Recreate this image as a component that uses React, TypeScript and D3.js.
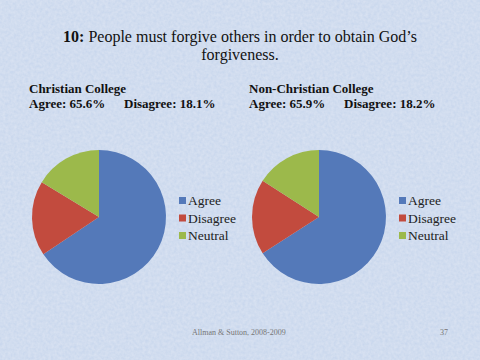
import React from 'react';
import * as d3 from 'd3';

const categories = ['Agree', 'Disagree', 'Neutral'];
const christianValues = [65.6, 18.1, 16.3];
const nonChristianValues = [65.9, 18.2, 15.9];
const colors = ['#5479b9', '#c24b3e', '#9cb94b'];

const W = 480;
const H = 360;
const serif = "'Liberation Serif', 'Times New Roman', serif";

function Pie({ values, cx, cy, r, legendX }: { values: number[]; cx: number; cy: number; r: number; legendX: number }) {
  const pie = d3.pie<number>().sort(null).value(d => d);
  const arc = d3.arc<d3.PieArcDatum<number>>().innerRadius(0).outerRadius(r);
  const arcs = pie(values);
  // legend rows
  const legendY = d3.scalePoint<string>().domain(categories).range([cy - 16, cy + 19]);
  return (
    <g>
      <g transform={`translate(${cx},${cy})`}>
        {arcs.map((a, i) => (
          <path key={i} d={arc(a) || ''} fill={colors[i]} />
        ))}
      </g>
      {categories.map((c, i) => (
        <g key={c} transform={`translate(${legendX},${legendY(c)})`}>
          <rect x={0} y={-4} width={7} height={7} fill={colors[i]} />
          <text x={9} y={4} style={{ fontSize: 13.5, fontFamily: serif }} fill="#222">{c}</text>
        </g>
      ))}
    </g>
  );
}

export default function App() {
  return (
    <div style={{ position: 'absolute', left: 0, top: 0 }}>
      <svg width={W} height={H} style={{ display: 'block', fontFamily: serif }}>
        <defs>
          <filter id="paper" x="0" y="0" width="100%" height="100%">
            <feTurbulence type="fractalNoise" baseFrequency="0.35" numOctaves={2} seed={3} result="n" />
            <feColorMatrix in="n" type="matrix"
              values="0 0 0 0 1  0 0 0 0 1  0 0 0 0 1  0 0 0 0.35 -0.05" result="w" />
            <feComposite in="w" in2="SourceGraphic" operator="over" />
          </filter>
        </defs>
        <rect width={W} height={H} fill="#c9d7ed" filter="url(#paper)" />

        <text x={240} y={42} textAnchor="middle" style={{ fontSize: 16, fontFamily: serif }} fill="#111">
          <tspan fontWeight="bold">10:</tspan> People must forgive  others in order to obtain God’s
        </text>
        <text x={240} y={60} textAnchor="middle" style={{ fontSize: 16, fontFamily: serif }} fill="#111">forgiveness.</text>

        <g style={{ fontFamily: serif, fontWeight: 'bold', fontSize: 13 }} fill="#111">
          <text x={29} y={93}>Christian College</text>
          <text x={29} y={108}>Agree: 65.6%</text>
          <text x={124} y={108}>Disagree: 18.1%</text>
          <text x={249} y={93}>Non-Christian College</text>
          <text x={249} y={108}>Agree: 65.9%</text>
          <text x={344} y={108}>Disagree: 18.2%</text>
        </g>

        <Pie values={christianValues} cx={99} cy={217} r={67} legendX={179} />
        <Pie values={nonChristianValues} cx={319} cy={217} r={67} legendX={399} />

        <text x={192} y={335} style={{ fontSize: 8, fontFamily: serif }} fill="#777">Allman &amp; Sutton, 2008-2009</text>
        <text x={440} y={335} style={{ fontSize: 8, fontFamily: serif }} fill="#777">37</text>
      </svg>
    </div>
  );
}
